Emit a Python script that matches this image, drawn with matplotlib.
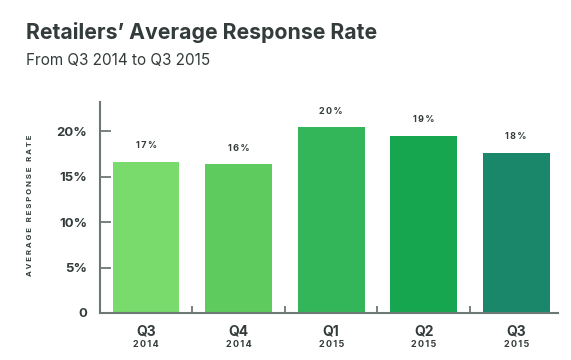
import matplotlib
matplotlib.use("Agg")
import matplotlib.pyplot as plt

quarters = ["Q3", "Q4", "Q1", "Q2", "Q3"]
years = ["2014", "2014", "2015", "2015", "2015"]
rates = [16.6, 16.35, 20.4, 19.45, 17.6]
labels = ["17%", "16%", "20%", "19%", "18%"]
colors = ["#78db6b", "#5dcb5e", "#33b55a", "#16a650", "#1a876a"]
yticks = [0, 5, 10, 15, 20]
ytick_labels = ["0", "5%", "10%", "15%", "20%"]

TEXT = "#333b3b"
AXIS = "#6d7775"
plt.rcParams["font.family"] = ["Inter", "DejaVu Sans"]

fig = plt.figure(figsize=(5.71, 3.6), dpi=100)
ax = fig.add_axes([0.175, 0.1306, 0.802, 0.586])

x = range(len(rates))
ax.bar(x, rates, width=0.72, color=colors, zorder=2)
for i, (r, lab) in enumerate(zip(rates, labels)):
    ax.annotate("\u2009".join(lab), (i, r), xytext=(0, 8.5),
                textcoords="offset points", ha="center", va="bottom",
                fontsize=6.5, fontweight="bold", color=TEXT)

ax.set_xlim(-0.5, 4.45)
ax.set_ylim(0, 23.2)
ax.set_yticks(yticks)
ax.set_yticklabels(ytick_labels, fontsize=9.5, fontweight="bold", color=TEXT)
ax.tick_params(axis="y", direction="in", length=8, width=1.3, color=AXIS, pad=9)
ax.set_xticks([0.5, 1.5, 2.5, 3.5])
ax.set_xticklabels([])
ax.tick_params(axis="x", direction="in", length=5, width=1.3, color=AXIS)
for i, (q, yr) in enumerate(zip(quarters, years)):
    ax.text(i, -0.055, q, transform=ax.get_xaxis_transform(), ha="center",
            va="top", fontsize=10, fontweight="bold", color=TEXT)
    ax.text(i, -0.13, "\u2009".join(yr), transform=ax.get_xaxis_transform(),
            ha="center", va="top", fontsize=6.5, fontweight="bold", color=TEXT)

for s in ["top", "right"]:
    ax.spines[s].set_visible(False)
for s in ["left", "bottom"]:
    ax.spines[s].set_color(AXIS)
    ax.spines[s].set_linewidth(1.5)

fig.text(0.053, 0.43, "A V E R A G E   R E S P O N S E   R A T E", rotation=90,
         ha="center", va="center", fontsize=5.6, fontweight="bold", color=TEXT)
fig.text(0.045, 0.91, "Retailers\u2019 Average Response Rate", ha="left",
         va="center", fontsize=15.3, fontweight="bold", color=TEXT)
fig.text(0.045, 0.833, "From Q3 2014 to Q3 2015", ha="left", va="center",
         fontsize=11, color=TEXT)

fig.savefig("out.png", dpi=100)
